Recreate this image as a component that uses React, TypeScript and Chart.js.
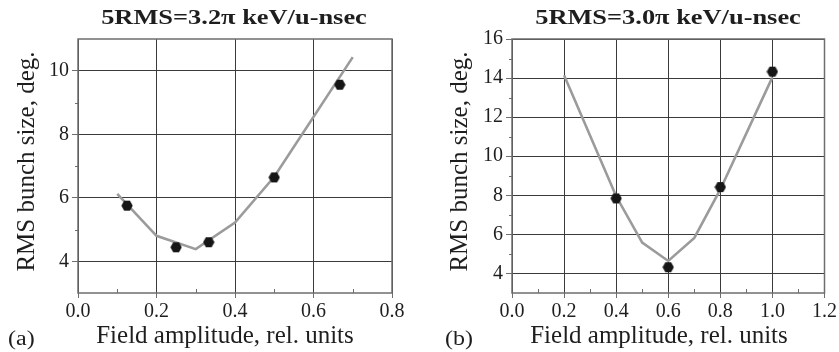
import React, { useEffect, useRef } from 'react';
import { Chart, registerables } from 'chart.js';

Chart.register(...registerables);

// ---- Data: panel (a)
const aTitle = '5RMS=3.2π keV/u-nsec';
const aPointsX = [0.125, 0.25, 0.333, 0.5, 0.667];
const aPointsY = [5.75, 4.44, 4.6, 6.64, 9.56];
const aLineX = [0.1, 0.2, 0.3, 0.4, 0.5, 0.7];
const aLineY = [6.12, 4.8, 4.38, 5.22, 6.66, 10.43];
const aYTicks = [4, 6, 8, 10];
const aYMinor = [5, 7, 9];
const aXMinor = [0.1, 0.3, 0.5, 0.7];

// ---- Data: panel (b)
const bTitle = '5RMS=3.0π keV/u-nsec';
const bPointsX = [0.4, 0.6, 0.8, 1.0];
const bPointsY = [7.84, 4.32, 8.42, 14.33];
const bLineX = [0.2, 0.4, 0.5, 0.6, 0.7, 0.8, 1.0];
const bLineY = [14.15, 7.95, 5.58, 4.64, 5.82, 8.3, 14.05];
const bYTicks = [4, 6, 8, 10, 12, 14, 16];
const bYMinor = [5, 7, 9, 11, 13, 15];
const bXMinor = [0.1, 0.3, 0.5, 0.7, 0.9, 1.1];

const xTitle = 'Field amplitude, rel. units';
const yTitle = 'RMS bunch size, deg.';

const FONT = "'Liberation Serif', 'Times New Roman', serif";
const TEXT = '#1e1e1e';
const GRID = '#3a3a3a';
const FRAME = '#6e6e6e';
const LINE = '#9b9b9b';
const DOT = '#161616';

function makeHexagon(size: number, color: string): HTMLCanvasElement {
  const c = document.createElement('canvas');
  c.width = size;
  c.height = size;
  const ctx = c.getContext('2d')!;
  const r = size / 2;
  ctx.beginPath();
  for (let i = 0; i < 6; i++) {
    const a = (Math.PI / 3) * i;
    const px = r + (r - 0.3) * Math.cos(a);
    const py = r + (r - 0.3) * Math.sin(a);
    if (i === 0) ctx.moveTo(px, py);
    else ctx.lineTo(px, py);
  }
  ctx.closePath();
  ctx.fillStyle = color;
  ctx.fill();
  return c;
}

const framePlugin = {
  id: 'frameMinor',
  beforeDatasetsDraw(chart: any, _args: any, opts: any) {
    const { ctx, chartArea, scales } = chart;
    const { left, right, top, bottom } = chartArea;
    ctx.save();
    ctx.strokeStyle = FRAME;
    ctx.lineWidth = 1;
    ctx.beginPath();
    (opts.xMinor || []).forEach((v: number) => {
      const px = Math.round(scales.x.getPixelForValue(v)) + 0.5;
      ctx.moveTo(px, bottom);
      ctx.lineTo(px, bottom - 4);
    });
    (opts.yMinor || []).forEach((v: number) => {
      const py = Math.round(scales.y.getPixelForValue(v)) + 0.5;
      ctx.moveTo(left, py);
      ctx.lineTo(left - 3, py);
    });
    ctx.stroke();
    ctx.strokeStyle = FRAME;
    ctx.lineWidth = 1.5;
    ctx.strokeRect(left, top, right - left, bottom - top);
    ctx.restore();
  },
};

interface PanelProps {
  pointsX: number[];
  pointsY: number[];
  lineX: number[];
  lineY: number[];
  xMax: number;
  yMin: number;
  yMax: number;
  yTicks: number[];
  yMinor: number[];
  xMinor: number[];
  axisWidth: number;
  rightPad: number;
  width: number;
}

function Panel(p: PanelProps) {
  const ref = useRef<HTMLCanvasElement>(null);
  useEffect(() => {
    if (!ref.current) return;
    const hex = makeHexagon(12, DOT);
    const chart = new Chart(ref.current, {
      type: 'scatter',
      data: {
        datasets: [
          {
            label: 'points',
            data: p.pointsX.map((x, i) => ({ x, y: p.pointsY[i] })),
            pointStyle: hex as any,
            pointRadius: 6,
            showLine: false,
            backgroundColor: DOT,
            borderColor: DOT,
          },
          {
            label: 'line',
            data: p.lineX.map((x, i) => ({ x, y: p.lineY[i] })),
            showLine: true,
            borderColor: LINE,
            borderWidth: 2.6,
            pointRadius: 0,
            tension: 0,
            fill: false,
          },
        ],
      },
      options: {
        animation: false,
        responsive: false,
        events: [],
        layout: { padding: { top: 39, right: p.rightPad, bottom: 0, left: 0 } },
        plugins: {
          legend: { display: false },
          tooltip: { enabled: false },
          title: { display: false },
          frameMinor: { xMinor: p.xMinor, yMinor: p.yMinor },
        } as any,
        scales: {
          x: {
            type: 'linear',
            min: 0,
            max: p.xMax,
            ticks: {
              stepSize: 0.2,
              color: TEXT,
              font: { family: FONT, size: 20 },
              padding: 2,
              maxRotation: 0,
              callback: (v: any) => Number(v).toFixed(1),
            },
            grid: { color: GRID, lineWidth: 1, tickLength: 5, tickColor: FRAME },
            border: { display: false },
            title: { display: false },
            afterFit: (s: any) => {
              s.height = 59;
            },
          },
          y: {
            type: 'linear',
            min: p.yMin,
            max: p.yMax,
            afterBuildTicks: (s: any) => {
              s.ticks = p.yTicks.map((v) => ({ value: v }));
            },
            ticks: {
              color: TEXT,
              font: { family: FONT, size: 20 },
              padding: 3,
            },
            grid: { color: GRID, lineWidth: 1, tickLength: 6, tickColor: FRAME },
            border: { display: false },
            title: { display: false },
            afterFit: (s: any) => {
              s.width = p.axisWidth;
            },
          },
        },
      },
      plugins: [framePlugin],
    });
    return () => chart.destroy();
  }, []);
  return <canvas ref={ref} width={p.width} height={352} style={{ display: 'block', width: p.width, height: 352 }} />;
}

const titleStyle = (center: number): React.CSSProperties => ({
  position: 'absolute',
  left: center - 200,
  width: 400,
  top: 6,
  textAlign: 'center',
  fontFamily: FONT,
  fontWeight: 'bold',
  fontSize: 22,
  lineHeight: '22px',
  color: TEXT,
  whiteSpace: 'nowrap',
  transform: 'scaleX(1.2)',
  transformOrigin: '50% 50%',
});

const labelStyle = (left: number): React.CSSProperties => ({
  position: 'absolute',
  left,
  top: 328,
  fontFamily: FONT,
  fontSize: 20,
  lineHeight: '20px',
  color: TEXT,
  transform: 'scaleX(1.2)',
  transformOrigin: '0 50%',
});

const xTitleStyle = (center: number): React.CSSProperties => ({
  position: 'absolute',
  left: center - 200,
  width: 400,
  top: 322,
  textAlign: 'center',
  fontFamily: FONT,
  fontSize: 25,
  lineHeight: '25px',
  color: TEXT,
  whiteSpace: 'nowrap',
});

const yTitleStyle = (cx: number, cy: number): React.CSSProperties => ({
  position: 'absolute',
  left: cx - 150,
  top: cy - 12.5,
  width: 300,
  height: 25,
  textAlign: 'center',
  fontFamily: FONT,
  fontSize: 25,
  lineHeight: '25px',
  color: TEXT,
  whiteSpace: 'nowrap',
  transform: 'rotate(-90deg)',
  transformOrigin: '50% 50%',
});

export default function App() {
  return (
    <div style={{ position: 'absolute', left: 0, top: 0, width: 839, height: 352, background: '#fff', overflow: 'hidden' }}>
      <div style={{ position: 'absolute', left: 0, top: 0 }}>
        <Panel
          pointsX={aPointsX}
          pointsY={aPointsY}
          lineX={aLineX}
          lineY={aLineY}
          xMax={0.8}
          yMin={3}
          yMax={11}
          yTicks={aYTicks}
          yMinor={aYMinor}
          xMinor={aXMinor}
          axisWidth={78}
          rightPad={28}
          width={420}
        />
      </div>
      <div style={{ position: 'absolute', left: 420, top: 0 }}>
        <Panel
          pointsX={bPointsX}
          pointsY={bPointsY}
          lineX={bLineX}
          lineY={bLineY}
          xMax={1.2}
          yMin={3}
          yMax={16}
          yTicks={bYTicks}
          yMinor={bYMinor}
          xMinor={bXMinor}
          axisWidth={92}
          rightPad={14}
          width={419}
        />
      </div>
      <div style={titleStyle(234)}>{aTitle}</div>
      <div style={titleStyle(668)}>{bTitle}</div>
      <div style={xTitleStyle(225)}>{xTitle}</div>
      <div style={xTitleStyle(659)}>{xTitle}</div>
      <div style={yTitleStyle(24.5, 161)}>{yTitle}</div>
      <div style={yTitleStyle(458, 161)}>{yTitle}</div>
      <div style={labelStyle(8)}>(a)</div>
      <div style={labelStyle(445)}>(b)</div>
    </div>
  );
}
